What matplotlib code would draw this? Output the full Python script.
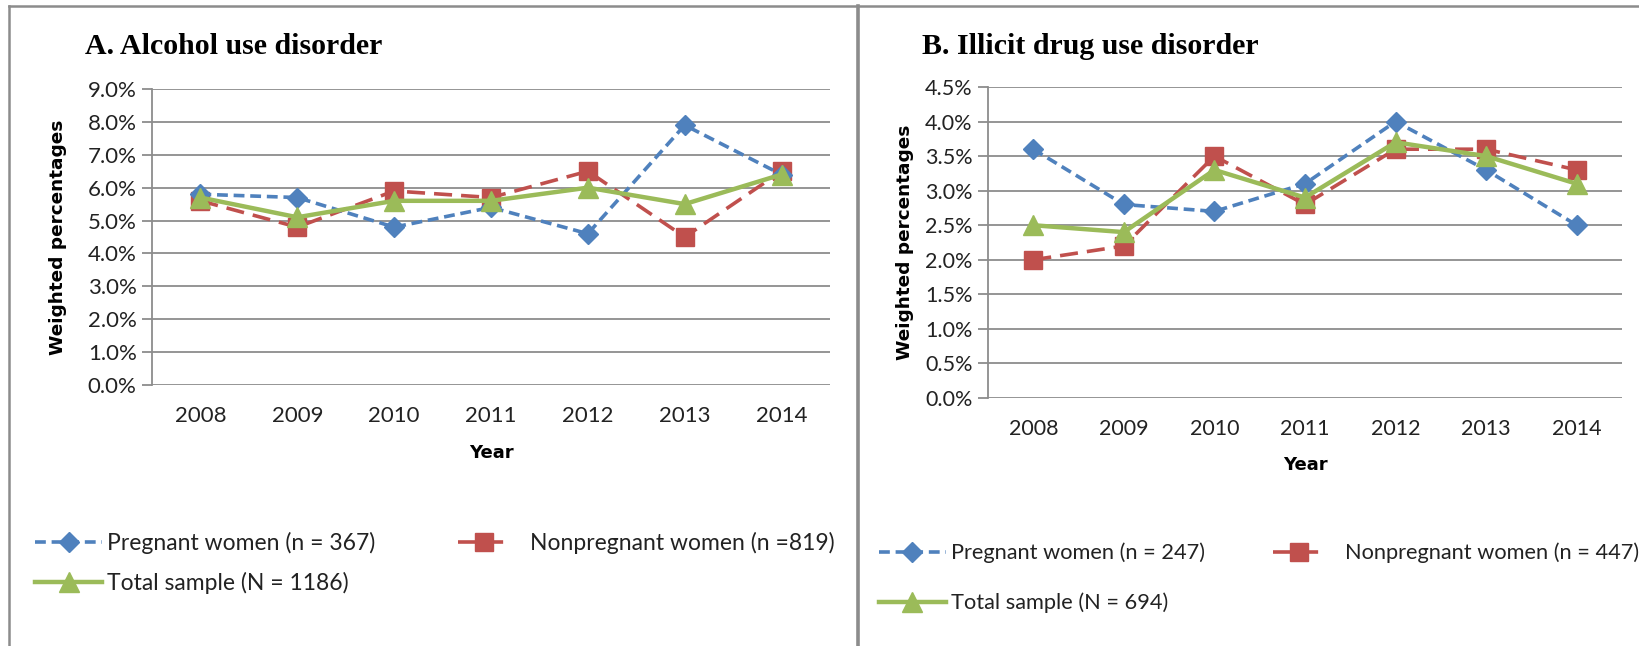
import matplotlib.pyplot as plt
from matplotlib.lines import Line2D
from matplotlib.ticker import FuncFormatter, MultipleLocator

years = ["2008", "2009", "2010", "2011", "2012", "2013", "2014"]

# panel A - alcohol use disorder (%)
alc_pregnant = [5.8, 5.7, 4.8, 5.4, 4.6, 7.9, 6.4]
alc_nonpregnant = [5.6, 4.8, 5.9, 5.7, 6.5, 4.5, 6.5]
alc_total = [5.7, 5.1, 5.6, 5.6, 6.0, 5.5, 6.4]
alc_labels = ["Pregnant women (n = 367)", "Nonpregnant women (n =819)", "Total sample (N = 1186)"]

# panel B - illicit drug use disorder (%)
drug_pregnant = [3.6, 2.8, 2.7, 3.1, 4.0, 3.3, 2.5]
drug_nonpregnant = [2.0, 2.2, 3.5, 2.8, 3.6, 3.6, 3.3]
drug_total = [2.5, 2.4, 3.3, 2.9, 3.7, 3.5, 3.1]
drug_labels = ["Pregnant women (n = 247)", "Nonpregnant women (n = 447)", "Total sample (N = 694)"]

BLUE = "#4F81BD"
RED = "#C0504D"
GREEN = "#9BBB59"
GRID = "#8C8C8C"
TXT = ["Lato", "DejaVu Sans"]

W, H = 1640, 646
fig = plt.figure(figsize=(W / 100, H / 100), dpi=100)


def px_axes(left, top, right, bottom):
    return fig.add_axes([left / W, 1 - bottom / H, (right - left) / W, (bottom - top) / H])


def one_legend(handle, label, x, y, hlen, pad, size):
    fig.legend([handle], [label], loc="center left", bbox_to_anchor=(x / W, 1 - y / H),
               frameon=False, handlelength=hlen, handletextpad=pad, borderpad=0,
               borderaxespad=0, labelcolor="#222222", prop={"family": TXT, "size": size})


def draw_panel(ax, pregnant, nonpregnant, total, labels, ymax, step, tick_size, title,
               title_xy, ylabel_x, xlabel_y, leg_pos, leg_size):
    x = range(len(years))
    lp, = ax.plot(x, pregnant, color=BLUE, ls=(0, (3, 1.6)), lw=2.6, marker="D",
                  ms=10.5, mfc=BLUE, mec=BLUE, zorder=3)
    ln, = ax.plot(x, nonpregnant, color=RED, ls=(0, (5, 2.5)), lw=2.6, marker="s",
                  ms=13, mfc=RED, mec=RED, zorder=2)
    lt, = ax.plot(x, total, color=GREEN, ls="-", lw=3.2, marker="^",
                  ms=14, mfc=GREEN, mec=GREEN, zorder=4)
    ax.set_xlim(-0.5, len(years) - 0.5)
    ax.set_ylim(0, ymax)
    ax.yaxis.set_major_locator(MultipleLocator(step))
    ax.yaxis.set_major_formatter(FuncFormatter(lambda v, p: f"{v:.1f}%"))
    ax.set_xticks(list(x))
    ax.set_xticklabels(years)
    ax.grid(axis="y", color=GRID, lw=1.3)
    ax.set_axisbelow(True)
    for s in ["top", "right", "bottom"]:
        ax.spines[s].set_visible(False)
    ax.spines["left"].set_color(GRID)
    ax.spines["left"].set_linewidth(1.3)
    ax.tick_params(axis="y", length=7, color=GRID, width=1.3, pad=4)
    ax.tick_params(axis="x", length=0, pad=15)
    for t in ax.get_xticklabels() + ax.get_yticklabels():
        t.set_family(TXT)
        t.set_fontsize(tick_size)
        t.set_color("#222222")
    fig.text(title_xy[0] / W, 1 - title_xy[1] / H, title, family="Liberation Serif",
             weight="bold", fontsize=21.5, va="center", ha="left")
    pos = ax.get_position()
    fig.text(ylabel_x / W, (pos.y0 + pos.y1) / 2, "Weighted percentages", rotation=90,
             weight="bold", fontsize=13.3, va="center", ha="center")
    fig.text((pos.x0 + pos.x1) / 2, 1 - xlabel_y / H, "Year", weight="bold",
             fontsize=13, va="center", ha="center")
    (x1, y1), (x2, y2), (x3, y3) = leg_pos
    fpx = leg_size * 100 / 72
    one_legend(lp, labels[0], x1, y1, 67 / fpx, 5 / fpx, leg_size)
    one_legend(ln, labels[1], x2, y2, 52 / fpx, 20 / fpx, leg_size)
    one_legend(lt, labels[2], x3, y3, 67 / fpx, 5 / fpx, leg_size)


axA = px_axes(152, 89, 830, 385)
draw_panel(axA, alc_pregnant, alc_nonpregnant, alc_total, alc_labels, 9.0, 1.0, 16,
           "A. Alcohol use disorder", (85, 46), 58, 453,
           [(35, 543), (458, 543), (35, 583)], 16.5)

axB = px_axes(988, 87, 1622, 398)
draw_panel(axB, drug_pregnant, drug_nonpregnant, drug_total, drug_labels, 4.5, 0.5, 15.5,
           "B. Illicit drug use disorder", (922, 46), 905, 465,
           [(879, 553), (1273, 553), (879, 603)], 15.7)

# panel frames
fig.add_artist(Line2D([9 / W, 9 / W], [0, 1 - 6 / H], color="#8C8C8C", lw=1.8))
fig.add_artist(Line2D([9 / W, 1], [1 - 6 / H, 1 - 6 / H], color="#8C8C8C", lw=1.8))
fig.add_artist(Line2D([858 / W, 858 / W], [0, 1 - 6 / H], color="#8C8C8C", lw=2.6))

fig.savefig("out.png", dpi=100)
